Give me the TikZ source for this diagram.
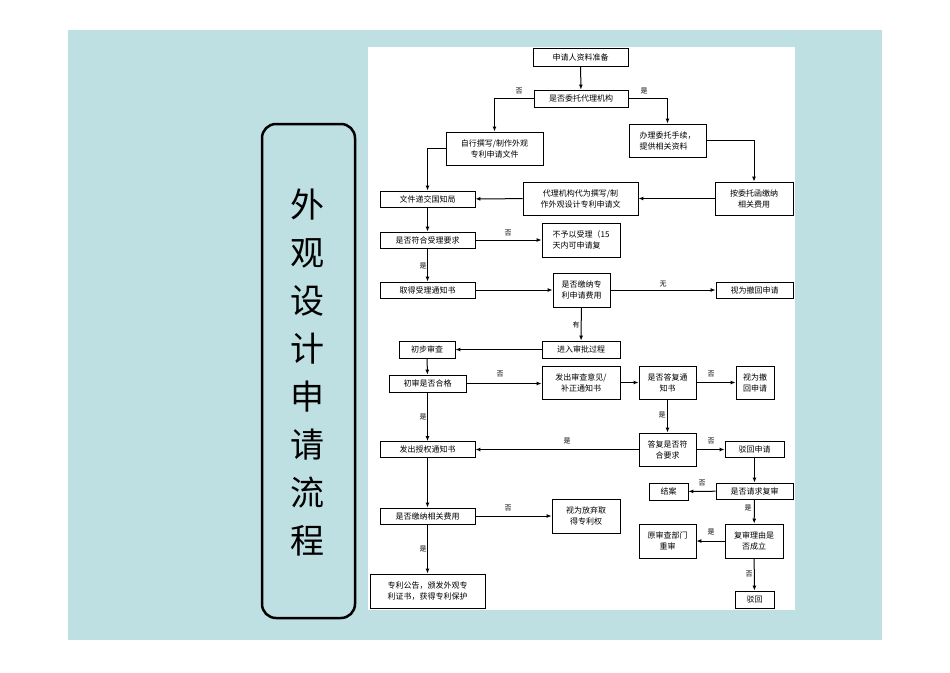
\documentclass[tikz,border=0pt]{standalone}
\usepackage{fontspec}
\setmainfont{Noto Sans CJK SC}
\usetikzlibrary{arrows.meta}
\definecolor{teal0}{RGB}{190,224,226}
\begin{document}
\begin{tikzpicture}[x=1pt,y=-1pt,
 bx/.style={draw,line width=0.8pt,inner sep=1pt,font=\fontsize{8}{11}\selectfont,align=center},
 ar/.style={line width=1pt,-{Latex[length=5pt,width=4pt]}},
 lb/.style={font=\fontsize{7}{8}\selectfont,inner sep=0pt}]
\useasboundingbox (0,0) rectangle (950,672);
\fill[white] (0,0) rectangle (950,672);
\fill[teal0] (68,30) rectangle (882,640);
\fill[white] (368,47) rectangle (795,610);
\draw[line width=2.5pt,rounded corners=14pt] (262,124) rectangle (355,618);
\foreach \c [count=\i from 0] in {外,观,设,计,申,请,流,程}
  \node[font=\fontsize{34}{34}\selectfont,inner sep=0pt] (t\i) at (307,205+48*\i) {\c};
% nodes
\node[bx,minimum width=95,minimum height=18] (n1) at (580.5,57) {申请人资料准备};
\node[bx,minimum width=94,minimum height=17] (n2) at (581,98.5) {是否委托代理机构};
\node[bx,minimum width=97,minimum height=33] (n3) at (494.5,148.5) {自行撰写/制作外观\\专利申请文件};
\node[bx,minimum width=77,minimum height=33,align=left] (n4) at (667.5,140.5) {办理委托手续，\\提供相关资料};
\node[bx,minimum width=95,minimum height=16] (n5) at (427.5,199) {文件递交国知局};
\node[bx,minimum width=115,minimum height=33] (n6) at (580.5,198.5) {代理机构代为撰写/制\\作外观设计专利申请文};
\node[bx,minimum width=78,minimum height=33] (n7) at (754,198.5) {按委托函缴纳\\相关费用};
\node[bx,minimum width=95,minimum height=16] (n8) at (427.5,240) {是否符合受理要求};
\node[bx,minimum width=78,minimum height=34,align=left] (n9) at (581,240) {不予以受理（15\\天内可申请复};
\node[bx,minimum width=95,minimum height=16] (n10) at (427.5,290) {取得受理通知书};
\node[bx,minimum width=57,minimum height=34,align=left] (n11) at (581.5,290) {是否缴纳专\\利申请费用};
\node[bx,minimum width=77,minimum height=16] (n12) at (754.5,290) {视为撤回申请};
\node[bx,minimum width=78,minimum height=17] (n13) at (581,349.5) {进入审批过程};
\node[bx,minimum width=56,minimum height=17] (n14) at (427,349.5) {初步审查};
\node[bx,minimum width=77,minimum height=17] (n15) at (427.5,383.5) {初审是否合格};
\node[bx,minimum width=78,minimum height=33] (n16) at (581,382.5) {发出审查意见/\\补正通知书};
\node[bx,minimum width=57,minimum height=33] (n17) at (667.5,382.5) {是否答复通\\知书};
\node[bx,minimum width=38,minimum height=33] (n18) at (755,382.5) {视为撤\\回申请};
\node[bx,minimum width=95,minimum height=16] (n19) at (427.5,449.5) {发出授权通知书};
\node[bx,minimum width=57,minimum height=33] (n20) at (667.5,449.5) {答复是否符\\合要求};
\node[bx,minimum width=59,minimum height=16] (n21) at (754.5,449.5) {驳回申请};
\node[bx,minimum width=39,minimum height=17] (n22) at (668.5,491.5) {结案};
\node[bx,minimum width=77,minimum height=16] (n23) at (754.5,491) {是否请求复审};
\node[bx,minimum width=95,minimum height=16] (n24) at (427.5,516) {是否缴纳相关费用};
\node[bx,minimum width=68,minimum height=34] (n25) at (586,516) {视为放弃取\\得专利权};
\node[bx,minimum width=57,minimum height=34] (n26) at (667.5,541) {原审查部门\\重审};
\node[bx,minimum width=58,minimum height=34] (n27) at (754,541) {复审理由是\\否成立};
\node[bx,minimum width=115,minimum height=34] (n28) at (427.5,591) {专利公告，颁发外观专\\利证书，获得专利保护};
\node[bx,minimum width=39,minimum height=17] (n29) at (754.5,599.5) {驳回};
% connectors
\draw[ar] (n1) -- (n2);
\draw[ar] (n2.west) -| (n3.north);
\draw[ar] (n2.east) -| (n4.north);
\draw[ar] (n3.west) -| (n5.north);
\draw[ar] (n4.east) -| (n7.north);
\draw[ar] (n7) -- (n6);
\draw[ar] (n6) -- (n5);
\draw[ar] (n5) -- (n8);
\draw[ar] (n8) -- (n9);
\draw[ar] (n8) -- (n10);
\draw[ar] (n10) -- (n11);
\draw[ar] (n11) -- (n12);
\draw[ar] (n11) -- (n13);
\draw[ar] (n13) -- (n14);
\draw[ar] (n14) -- (n15);
\draw[ar] (n15.east) -- (n16.west |- n15.east);
\draw[ar] (n16) -- (n17);
\draw[ar] (n17) -- (n18);
\draw[ar] (n17) -- (n20);
\draw[ar] (n20) -- (n19);
\draw[ar] (n20) -- (n21);
\draw[ar] (n21) -- (n23);
\draw[ar] (n23) -- (n22);
\draw[ar] (n23) -- (n27);
\draw[ar] (n27) -- (n26);
\draw[ar] (n27) -- (n29);
\draw[ar] (n15) -- (n19);
\draw[ar] (n19) -- (n24);
\draw[ar] (n24) -- (n25);
\draw[ar] (n24) -- (n28);
% labels
\node[lb] (l1) at (519,91) {否};
\node[lb] (l2) at (644,91) {是};
\node[lb] (l3) at (508,233) {否};
\node[lb] (l4) at (423,266) {是};
\node[lb] (l5) at (663,284) {无};
\node[lb] (l6) at (576,325) {有};
\node[lb] (l7) at (500,374) {否};
\node[lb] (l8) at (423,417) {是};
\node[lb] (l9) at (711,374) {否};
\node[lb] (l10) at (662,415) {是};
\node[lb] (l11) at (567,441) {是};
\node[lb] (l12) at (711,441) {否};
\node[lb] (l13) at (702,483) {否};
\node[lb] (l14) at (748,508) {是};
\node[lb] (l15) at (711,532) {是};
\node[lb] (l16) at (749,574) {否};
\node[lb] (l17) at (508,508) {否};
\node[lb] (l18) at (423,549) {是};
\end{tikzpicture}
\end{document}
